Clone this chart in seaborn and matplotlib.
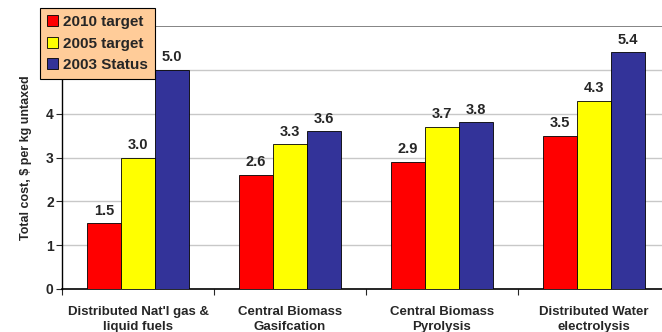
import pandas as pd
import seaborn as sns
import matplotlib.pyplot as plt

# Chart values
categories = ["Distributed Nat'l gas &\nliquid fuels", "Central Biomass\nGasifcation",
              "Central Biomass\nPyrolysis", "Distributed Water\nelectrolysis"]
series = ["2010 target", "2005 target", "2003 Status"]
target_2010 = [1.5, 2.6, 2.9, 3.5]
target_2005 = [3.0, 3.3, 3.7, 4.3]
status_2003 = [5.0, 3.6, 3.8, 5.4]
colors = ["#FF0000", "#FFFF00", "#333399"]

rows = []
for name, vals in zip(series, [target_2010, target_2005, status_2003]):
    for cat, v in zip(categories, vals):
        rows.append({"Category": cat, "Series": name, "Cost": v})
df = pd.DataFrame(rows)

sns.set_style("white")
plt.rcParams['font.family'] = ['Liberation Sans', 'DejaVu Sans']
plt.rcParams['font.weight'] = 'bold'

fig = plt.figure(figsize=(6.62, 3.32), dpi=100)
ax = fig.add_axes([62 / 662, 43 / 332, 608 / 662, 263 / 332])

sns.barplot(data=df, x="Category", y="Cost", hue="Series", palette=colors,
            width=0.67, edgecolor="black", linewidth=0.6, saturation=1, ax=ax, zorder=3)

for cont in ax.containers:
    ax.bar_label(cont, fmt="%.1f", padding=4, fontsize=10.5, fontweight="bold")

ax.set_ylim(0, 6)
ax.set_xlim(-0.5, 3.5)
ax.set_yticks([0, 1, 2, 3, 4, 5])
ax.tick_params(axis="y", labelsize=10, length=4, width=0.8, left=True, direction="out", pad=2)
ax.set_xticks(range(4))
ax.set_xticklabels(categories, fontsize=9.5, fontweight="bold", linespacing=1.35)
ax.set_xticks([-0.5, 0.5, 1.5, 2.5], minor=True)
ax.tick_params(axis="x", which="major", length=0, pad=12)
ax.tick_params(axis="x", which="minor", length=4, width=0.8, bottom=True, direction="out")

for y in [1, 2, 3, 4, 5]:
    ax.axhline(y, color="#C8C8C8", linewidth=1, zorder=1)
ax.axhline(6, color="#707070", linewidth=1.2, zorder=1)

for s in ["top", "right"]:
    ax.spines[s].set_visible(False)
ax.spines["left"].set_color("black")
ax.spines["bottom"].set_color("black")
ax.spines["left"].set_linewidth(1)
ax.spines["bottom"].set_linewidth(1.2)

ax.set_xlabel("")
ax.set_ylabel("Total cost, $ per kg untaxed", fontsize=9, fontweight="bold", labelpad=10)

handles, labels = ax.get_legend_handles_labels()
ax.get_legend().remove()
leg = fig.legend(handles, labels, loc="upper left", bbox_to_anchor=(40 / 662, 1 - 8 / 332),
                 fontsize=11, frameon=True, fancybox=False, edgecolor="black",
                 facecolor="#FFCC99", framealpha=1, handlelength=0.75, handleheight=0.75,
                 handletextpad=0.3, borderpad=0.45, labelspacing=0.5, borderaxespad=0)
leg.get_frame().set_linewidth(0.8)
for t in leg.get_texts():
    t.set_fontweight("bold")

fig.savefig("out.png", dpi=100)
